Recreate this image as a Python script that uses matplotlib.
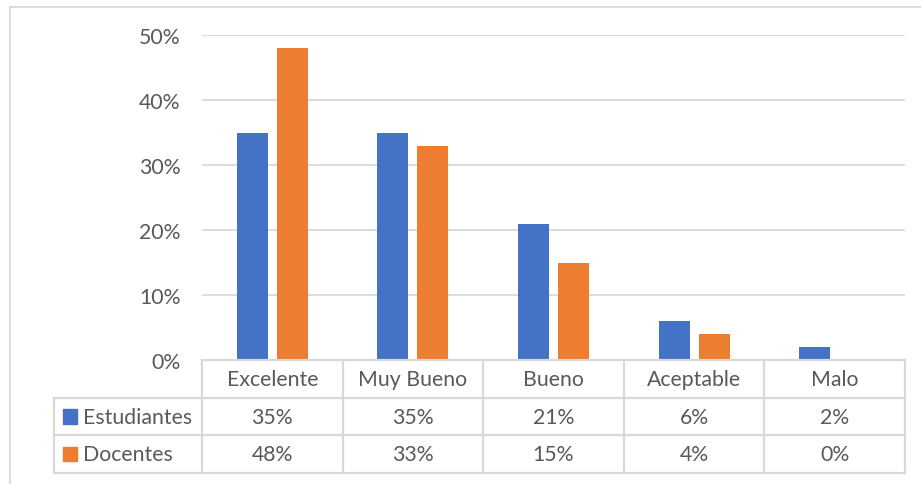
import matplotlib
matplotlib.use("Agg")
import matplotlib.pyplot as plt
from matplotlib.patches import Rectangle
import numpy as np

categories = ["Excelente", "Muy Bueno", "Bueno", "Aceptable", "Malo"]
series_names = ["Estudiantes", "Docentes"]
estudiantes = [0.35, 0.35, 0.21, 0.06, 0.02]
docentes = [0.48, 0.33, 0.15, 0.04, 0.00]
yticks = [0.0, 0.1, 0.2, 0.3, 0.4, 0.5]
ytick_labels = ["0%", "10%", "20%", "30%", "40%", "50%"]

colors = ["#4472C4", "#ED7D31"]
text_color = "#595959"
grid_color = "#D9D9D9"
FONT = "Lato"
FS = 15.3

W, H = 921, 485
fig = plt.figure(figsize=(W / 100, H / 100), dpi=100)
plt.rcParams["font.family"] = [FONT, "DejaVu Sans"]

def fx(px):
    return px / W

def fy(py):
    return 1 - py / H

# outer chart border (cropped rectangle)
fig.add_artist(Rectangle((fx(9.5), fy(1000)), 2, fy(7.5) - fy(1000),
                         transform=fig.transFigure, fill=False,
                         edgecolor=grid_color, lw=1.3))

left, right = 202, 905
top, base = 36, 361
ax = fig.add_axes([fx(left), fy(base), fx(right) - fx(left), fy(top) - fy(base)])
x = np.arange(len(categories))
bw = 0.22
off = 0.142
ax.bar(x - off, estudiantes, bw, color=colors[0], zorder=3)
ax.bar(x + off, docentes, bw, color=colors[1], zorder=3)
ax.set_xlim(-0.5, len(categories) - 0.5)
ax.set_ylim(0, 0.5)
ax.set_yticks(yticks)
ax.set_yticklabels(ytick_labels, fontsize=FS, color=text_color)
ax.tick_params(axis="y", length=0, pad=15.5)
ax.set_xticks([])
ax.grid(axis="y", color=grid_color, lw=1.3, zorder=0)
for s in ax.spines.values():
    s.set_visible(False)

# data table
row_h = 37.7
tab_bottom = base + 3 * row_h
axt = fig.add_axes([fx(left), fy(tab_bottom), fx(right) - fx(left), fy(base) - fy(tab_bottom)])
axt.set_xlim(-0.5, len(categories) - 0.5)
axt.set_ylim(3, 0)
axt.axis("off")
col_w_px = (right - left) / len(categories)
hdr_left = -0.5 - (left - 54) / col_w_px
lk = dict(color=grid_color, lw=1.6, clip_on=False, solid_capstyle="projecting")
axt.plot([-0.5, len(categories) - 0.5], [0, 0], **lk)
for r in [1, 2, 3]:
    axt.plot([hdr_left, len(categories) - 0.5], [r, r], **lk)
axt.plot([hdr_left, hdr_left], [1, 3], **lk)
for c in range(len(categories) + 1):
    axt.plot([c - 0.5, c - 0.5], [0, 3], **lk)

for i, cat in enumerate(categories):
    axt.text(i, 0.5, cat, ha="center", va="center", fontsize=FS, color=text_color)
for r, (name, vals) in enumerate(zip(series_names, [estudiantes, docentes])):
    yy = r + 1.5
    for i, v in enumerate(vals):
        axt.text(i, yy, f"{round(v * 100):.0f}%", ha="center", va="center",
                 fontsize=FS, color=text_color)
    key_w = 14 / col_w_px
    kx = hdr_left + 9 / col_w_px
    axt.add_patch(Rectangle((kx, yy - 0.19), key_w, 0.38, color=colors[r], clip_on=False))
    axt.text(kx + key_w + 6 / col_w_px, yy, name, ha="left", va="center",
             fontsize=FS, color=text_color)

fig.savefig("out.png", dpi=100)
